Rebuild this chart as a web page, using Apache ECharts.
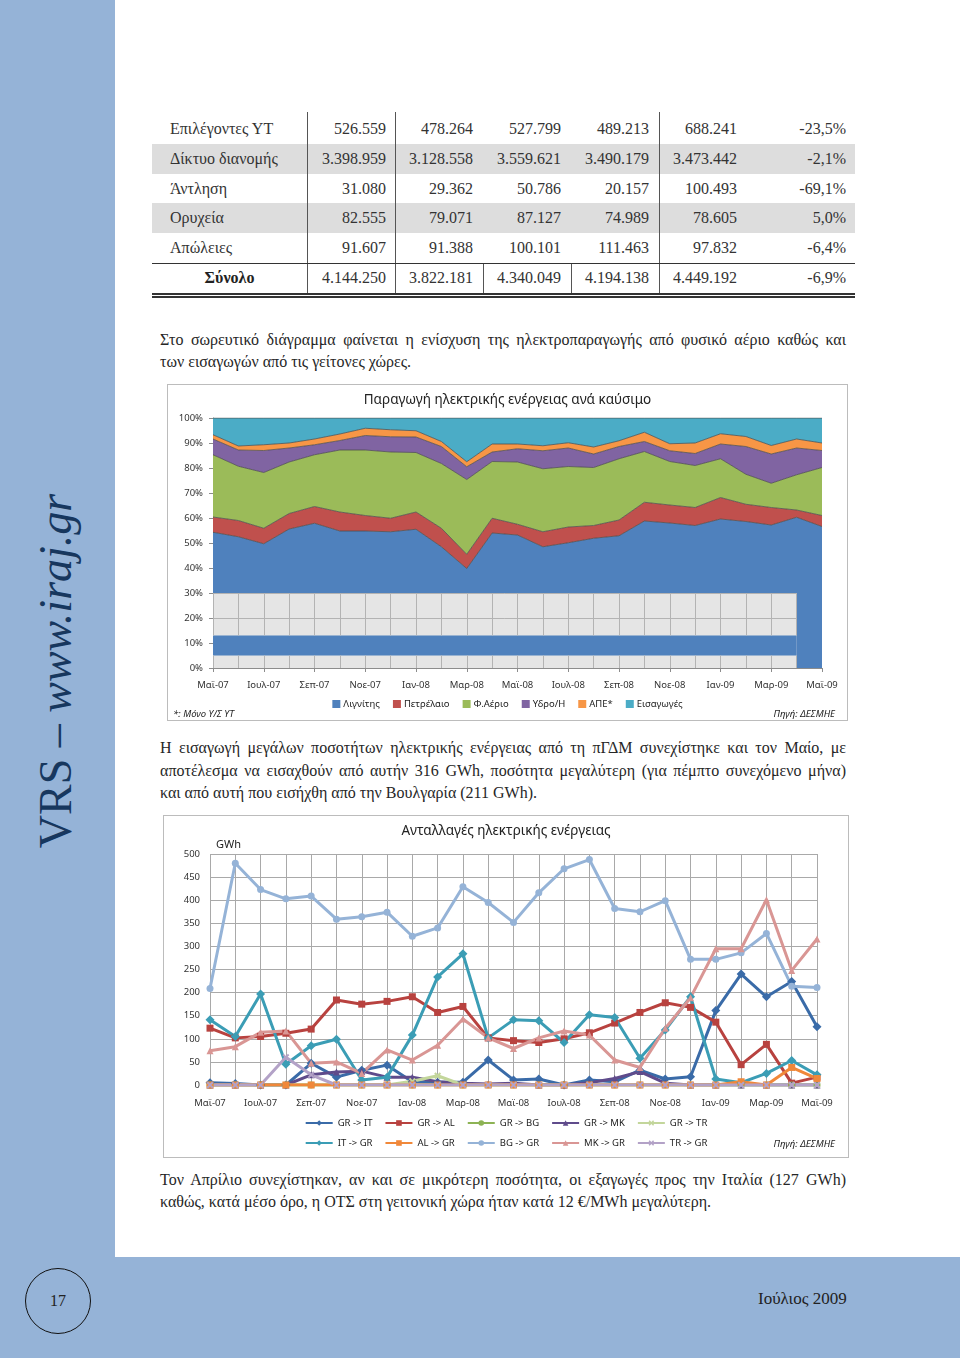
<!DOCTYPE html>
<html><head><meta charset="utf-8">
<script src="https://cdn.jsdelivr.net/npm/echarts@6/dist/echarts.min.js"></script>
<style>
body{margin:0;background:#fff;}
#page{position:relative;width:960px;height:1358px;overflow:hidden;background:#fff;font-family:'Liberation Serif',serif;}
.side{position:absolute;left:0;top:0;width:115px;height:1358px;background:#95B3D7;}
.bottom{position:absolute;left:0;top:1257px;width:960px;height:101px;background:#95B3D7;}
.vrs{position:absolute;left:55px;top:671px;transform:translate(-50%,-50%) rotate(-90deg);white-space:nowrap;font-size:46px;color:#17375E;font-family:'Liberation Serif',serif;}
.vrs i{font-style:italic;}
.circle{position:absolute;left:25px;top:1268px;width:64px;height:64px;border:1.5px solid #111;border-radius:50%;text-align:center;line-height:64px;font-size:16px;color:#222;}
.date{position:absolute;left:758px;top:1289px;font-size:17px;color:#222;}
.ln{position:absolute;left:160px;width:686px;font-size:16px;line-height:22px;color:#262626;text-align:justify;text-align-last:justify;}
.ln.last{text-align:left;text-align-last:left;}
.cell{position:absolute;font-size:16px;color:#333;line-height:20px;white-space:nowrap;}
.shade{position:absolute;left:152px;width:703px;background:#dddddd;}
.vl{position:absolute;width:1px;background:#555;}
.hl{position:absolute;left:152px;width:703px;background:#333;}
.chart{position:absolute;border:1px solid #bcbcbc;box-sizing:border-box;background:#fff;}
</style></head>
<body><div id="page">
<div class="side"></div>
<div class="bottom"></div>
<div class="vrs">VRS – <i>www.iraj.gr</i></div>
<div class="circle">17</div>
<div class="date">Ιούλιος 2009</div>
<div id="table"></div>
<div class="ln" style="top:329px">Στο σωρευτικό διάγραμμα φαίνεται η ενίσχυση της ηλεκτροπαραγωγής από φυσικό αέριο καθώς και</div>
<div class="ln last" style="top:351px">των εισαγωγών από τις γείτονες χώρες.</div>
<div class="ln" style="top:737px">Η εισαγωγή μεγάλων ποσοτήτων ηλεκτρικής ενέργειας από τη πΓΔΜ συνεχίστηκε και τον Μαίο, με</div>
<div class="ln" style="top:759.5px">αποτέλεσμα να εισαχθούν από αυτήν 316 GWh, ποσότητα μεγαλύτερη (για πέμπτο συνεχόμενο μήνα)</div>
<div class="ln last" style="top:782px">και από αυτή που εισήχθη από την Βουλγαρία (211 GWh).</div>
<div class="ln" style="top:1169px">Τον Απρίλιο συνεχίστηκαν, αν και σε μικρότερη ποσότητα, οι εξαγωγές προς την Ιταλία (127 GWh)</div>
<div class="ln last" style="top:1191px">καθώς, κατά μέσο όρο, η ΟΤΣ στη γειτονική χώρα ήταν κατά 12 €/MWh μεγαλύτερη.</div>
<div id="c1" class="chart" style="left:167px;top:384px;width:681px;height:337px;"></div>
<div id="c2" class="chart" style="left:163px;top:815px;width:686px;height:343px;"></div>
</div>
<script>
// ---------- table ----------
const tableLabels = ['Επιλέγοντες ΥΤ','Δίκτυο διανομής','Άντληση','Ορυχεία','Απώλειες','Σύνολο'];
const tableValues = [
  ['526.559','478.264','527.799','489.213','688.241','-23,5%'],
  ['3.398.959','3.128.558','3.559.621','3.490.179','3.473.442','-2,1%'],
  ['31.080','29.362','50.786','20.157','100.493','-69,1%'],
  ['82.555','79.071','87.127','74.989','78.605','5,0%'],
  ['91.607','91.388','100.101','111.463','97.832','-6,4%'],
  ['4.144.250','3.822.181','4.340.049','4.194.138','4.449.192','-6,9%']
];
(function(){
  const t = document.getElementById('table');
  const rowTop = [114,144,174,203,233,263];
  const rightEdge = [386,473,561,649,737,846];
  let h = '';
  [1,3].forEach(r => { h += `<div class="shade" style="top:${rowTop[r]}px;height:${rowTop[r+1]-rowTop[r]}px"></div>`; });
  [307,395,659].forEach(x => { h += `<div class="vl" style="left:${x}px;top:112px;height:181px"></div>`; });
  [483,571].forEach(x => { h += `<div class="vl" style="left:${x}px;top:263px;height:30px"></div>`; });
  h += `<div class="hl" style="top:263px;height:1px"></div>`;
  h += `<div class="hl" style="top:293px;height:2px"></div>`;
  h += `<div class="hl" style="top:296px;height:2px"></div>`;
  tableLabels.forEach((lab, r) => {
    const cy = rowTop[r] + 15 - 10;
    if (r === 5) h += `<div class="cell" style="left:152px;width:155px;text-align:center;top:${cy}px;font-weight:bold;color:#222">${lab}</div>`;
    else h += `<div class="cell" style="left:170px;top:${cy}px">${lab}</div>`;
    tableValues[r].forEach((v, c) => {
      h += `<div class="cell" style="right:${960-rightEdge[c]}px;top:${cy}px;text-align:right">${v}</div>`;
    });
  });
  t.innerHTML = h;
})();

// ---------- chart data ----------
const months = ['Μαϊ-07','Ιουν-07','Ιουλ-07','Αυγ-07','Σεπ-07','Οκτ-07','Νοε-07','Δεκ-07','Ιαν-08','Φεβ-08','Μαρ-08','Απρ-08','Μαϊ-08','Ιουν-08','Ιουλ-08','Αυγ-08','Σεπ-08','Οκτ-08','Νοε-08','Δεκ-08','Ιαν-09','Φεβ-09','Μαρ-09','Απρ-09','Μαϊ-09'];

// Chart 1: share of generation by fuel (%)
const lignite = [54.3,52.5,49.7,55.6,57.9,54.8,54.8,54.5,55.5,48.5,39.8,54.0,53.2,48.5,50.1,51.9,52.9,58.8,58.0,57.0,59.6,58.6,57.2,60.3,56.6];
const oil     = [6.1,6.5,6.2,6.2,6.7,7.6,6.2,5.4,6.9,7.4,5.7,5.9,4.3,6.0,6.3,5.1,6.3,7.5,7.2,7.2,8.6,6.9,7.0,2.9,4.4];
const gas     = [24.9,21.7,22.3,20.6,20.7,24.8,26.2,26.5,23.8,25.9,29.9,22.7,24.9,25.2,24.2,23.2,24.5,20.3,17.4,16.8,15.5,12.0,9.7,14.1,19.2];
const hydro   = [6.3,6.5,8.8,5.6,4.0,3.8,5.8,6.1,6.2,6.8,5.1,3.8,5.3,7.2,7.4,5.4,4.9,4.0,4.3,4.8,5.9,11.1,11.7,10.7,6.8];
const res     = [1.7,1.6,2.3,2.0,2.3,2.6,2.9,2.8,2.5,2.0,2.0,3.2,1.9,2.0,2.1,2.8,2.3,3.7,2.8,4.2,4.1,4.0,3.4,3.6,3.0];
const imports = [6.7,11.2,10.7,10.0,8.4,6.4,4.1,4.7,5.1,9.4,17.5,10.4,10.4,11.1,9.9,11.6,9.1,5.7,10.3,10.0,6.3,7.4,11.0,8.4,10.0];
const genNames = ['Λιγνίτης','Πετρέλαιο','Φ.Αέριο','Υδρο/Η','ΑΠΕ*','Εισαγωγές'];
const genTicks = [0,10,20,30,40,50,60,70,80,90,100];

// Chart 2: exchanges (GWh)
const grIT = [5,3,0,0,47,17,32,43,7,6,6,54,11,13,0,11,7,32,13,18,161,240,191,224,126];
const grAL = [123,102,105,112,121,184,175,181,191,157,170,102,96,92,100,113,134,157,178,168,136,44,88,4,17];
const grBG = [0,0,0,0,0,0,0,0,0,0,0,0,0,0,0,0,0,0,0,0,0,0,0,0,0];
const grMK = [0,0,0,0,22,28,30,17,17,7,4,2,4,0,0,5,14,29,4,0,0,0,0,0,0];
const grTR = [0,0,0,0,0,0,0,0,8,20,0,0,0,0,0,0,0,0,0,0,0,0,0,0,0];
const itGR = [141,105,197,45,85,99,11,17,108,234,284,102,141,139,92,152,146,58,119,191,13,5,25,53,22];
const alGR = [0,0,0,0,0,0,0,0,0,0,0,0,0,0,0,0,0,0,0,0,0,7,0,38,14];
const bgGR = [209,480,423,403,409,359,364,374,322,340,429,395,352,416,468,488,382,375,399,272,272,286,328,214,211];
const mkGR = [74,83,114,117,47,50,25,76,54,86,143,102,79,102,117,108,54,38,123,189,295,295,401,248,316];
const trGR = [0,0,0,60,22,0,0,0,0,0,0,0,0,0,0,0,0,0,0,0,0,0,0,0,0];
const flowNames = ['GR -> IT','GR -> AL','GR -> BG','GR -> MK','GR -> TR','IT -> GR','AL -> GR','BG -> GR','MK -> GR','TR -> GR'];
const flowTicks = [0,50,100,150,200,250,300,350,400,450,500];

const FONT = "'Noto Sans', 'Open Sans', sans-serif";

// ---------- chart 1 ----------
const genColors = ['#4F81BD','#C0504D','#9BBB59','#8064A2','#F79646','#4BACC6'];
const genData = [lignite, oil, gas, hydro, res, imports];
// rendering artefact of the original (grey patch with a band) in data coordinates
const patch = {end:'Απρ-09', top:30, bandLow:5, bandHigh:13, mid:20};
const endIdx = months.indexOf(patch.end);
const patchLines = [];
for (let i = 0; i <= endIdx; i++) {
  patchLines.push([{coord:[months[i],0]},{coord:[months[i],patch.bandLow]}]);
  patchLines.push([{coord:[months[i],patch.bandHigh]},{coord:[months[i],patch.top]}]);
}
patchLines.push([{coord:[months[0],patch.mid]},{coord:[patch.end,patch.mid]}]);
patchLines.push([{coord:[months[0],patch.top]},{coord:[patch.end,patch.top]}]);

const c1 = echarts.init(document.getElementById('c1'));
c1.setOption({
  animation:false,
  textStyle:{fontFamily:FONT},
  title:{text:'Παραγωγή ηλεκτρικής ενέργειας ανά καύσιμο', left:'center', top:3,
    textStyle:{fontSize:13.5, fontWeight:'normal', color:'#222', fontFamily:FONT}},
  grid:{left:45, right:25, top:33, bottom:52},
  legend:{data:genNames, top:309, left:'center', itemWidth:8, itemHeight:8, itemGap:13, icon:'rect',
    textStyle:{fontSize:9.5, color:'#222', fontFamily:FONT, padding:[0,0,0,-2]}},
  graphic:[
    {type:'text', left:5, top:324, style:{text:'*: Μόνο Υ/Σ ΥΤ', font:'italic 9.5px '+FONT, fill:'#222'}},
    {type:'text', right:12, top:324, style:{text:'Πηγή: ΔΕΣΜΗΕ', font:'italic 9.5px '+FONT, fill:'#222'}}
  ],
  xAxis:{type:'category', data:months, boundaryGap:false,
    axisLine:{lineStyle:{color:'#8c8c8c'}},
    axisTick:{interval:1, length:4, lineStyle:{color:'#8c8c8c'}},
    axisLabel:{interval:1, fontSize:9.5, color:'#333', margin:12, fontFamily:FONT},
    splitLine:{show:false}},
  yAxis:{type:'value', min:genTicks[0], max:genTicks[genTicks.length-1], interval:genTicks[1]-genTicks[0],
    axisLine:{show:true, lineStyle:{color:'#8c8c8c'}},
    axisTick:{show:true, length:4, lineStyle:{color:'#8c8c8c'}},
    axisLabel:{formatter:'{value}%', fontSize:9.5, color:'#333', margin:10, fontFamily:FONT},
    splitLine:{show:false}},
  series: genNames.map((n, k) => {
    const s = {name:n, type:'line', stack:'total', data:genData[k], symbol:'none', smooth:false,
      itemStyle:{color:genColors[k], borderColor:'#555'},
      lineStyle:{width:1, color:'#4a4a4a', opacity:0.75},
      areaStyle:{color:genColors[k], opacity:1}};
    if (k === genNames.length - 1) {
      s.markArea = {z:10, silent:true, label:{show:false}, data:[
        [{xAxis:months[0], yAxis:0, itemStyle:{color:'#e5e5e5', opacity:1}}, {xAxis:patch.end, yAxis:patch.top}],
        [{xAxis:months[0], yAxis:patch.bandLow, itemStyle:{color:'#4F81BD', opacity:1}}, {xAxis:patch.end, yAxis:patch.bandHigh}]
      ]};
      s.markLine = {z:11, silent:true, symbol:['none','none'], label:{show:false},
        lineStyle:{color:'#b3b3b3', width:1, type:'solid'}, data:patchLines};
    }
    return s;
  })
});

// ---------- chart 2 ----------
const flowData = [grIT, grAL, grBG, grMK, grTR, itGR, alGR, bgGR, mkGR, trGR];
const flowColors = ['#3A6BA8','#B8423F','#8DB354','#5F4B8B','#C3D69B','#3B9DB5','#F0883A','#95B3D7','#D99694','#B3A2C7'];
const xSym = 'path://M2,0 L5,3 L8,0 L10,2 L7,5 L10,8 L8,10 L5,7 L2,10 L0,8 L3,5 L0,2 Z';
const flowSymbols = ['diamond','rect','circle','triangle',xSym,'diamond','rect','circle','triangle',xSym];
const c2 = echarts.init(document.getElementById('c2'));
c2.setOption({
  animation:false,
  textStyle:{fontFamily:FONT},
  title:[
    {text:'Ανταλλαγές ηλεκτρικής ενέργειας', left:'center', top:3,
      textStyle:{fontSize:13.5, fontWeight:'normal', color:'#222', fontFamily:FONT}},
    {text:'GWh', left:47, top:18, textStyle:{fontSize:11, fontWeight:'normal', color:'#222', fontFamily:FONT}}
  ],
  grid:{left:46, right:31, top:38, bottom:72},
  legend:[
    {data:flowNames.slice(0,5), top:297, left:'center', itemWidth:27, itemHeight:7, itemGap:12,
      textStyle:{fontSize:9.5, color:'#222', fontFamily:FONT}},
    {data:flowNames.slice(5), top:317, left:'center', itemWidth:27, itemHeight:7, itemGap:12,
      textStyle:{fontSize:9.5, color:'#222', fontFamily:FONT}}
  ],
  graphic:[
    {type:'text', right:13, top:323, style:{text:'Πηγή: ΔΕΣΜΗΕ', font:'italic 9.5px '+FONT, fill:'#222'}}
  ],
  xAxis:{type:'category', data:months, boundaryGap:false,
    axisLine:{lineStyle:{color:'#8c8c8c'}},
    axisTick:{show:false},
    axisLabel:{interval:1, fontSize:9.5, color:'#333', margin:13, fontFamily:FONT},
    splitLine:{show:true, interval:0, lineStyle:{color:'#a9a9a9', width:1}}},
  yAxis:{type:'value', min:flowTicks[0], max:flowTicks[flowTicks.length-1], interval:flowTicks[1]-flowTicks[0],
    axisLine:{show:false}, axisTick:{show:false},
    axisLabel:{fontSize:9.5, color:'#333', margin:10, fontFamily:FONT},
    splitLine:{show:true, lineStyle:{color:'#a9a9a9', width:1}}},
  series: flowNames.map((n, k) => ({
    name:n, type:'line', data:flowData[k], symbol:flowSymbols[k],
    symbolSize: flowSymbols[k] === 'diamond' ? 9 : 7,
    color:flowColors[k],
    itemStyle:{color:flowColors[k]},
    lineStyle:{width:3, color:flowColors[k]}
  }))
});
</script>
</body></html>
